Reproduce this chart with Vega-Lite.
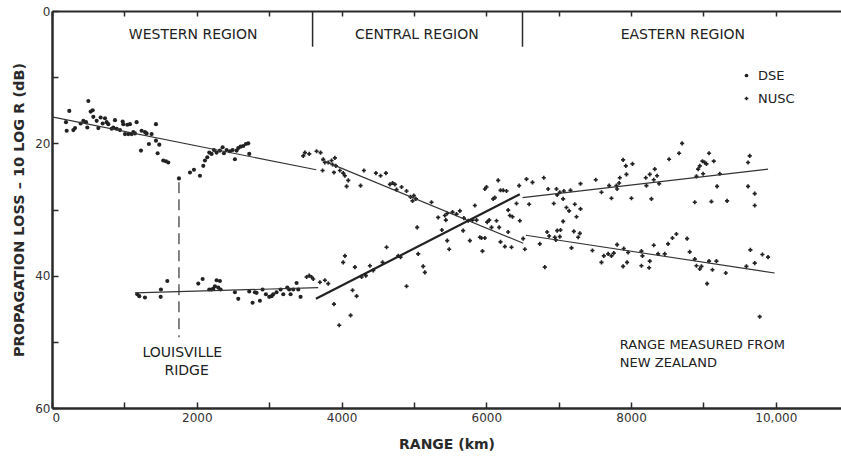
{
  "$schema": "https://vega.github.io/schema/vega-lite/v6.json",
  "width": 789,
  "height": 397,
  "autosize": {"type": "none"},
  "padding": {"left": 52, "top": 11, "right": 0, "bottom": 55},
  "background": "white",
  "config": {
    "view": {"stroke": null},
    "font": "DejaVu Sans",
    "axis": {"domainColor": "#2a2a2a", "tickColor": "#2a2a2a", "labelColor": "#333", "titleColor": "#2a2a2a", "grid": false, "labelFont": "DejaVu Sans", "titleFont": "DejaVu Sans"}
  },
  "datasets": {
    "pts": [
      {"range":193,"loss":16.8,"series":"DSE"},{"range":203,"loss":18.1,"series":"DSE"},{"range":239,"loss":15.1,"series":"DSE"},{"range":295,"loss":18.0,"series":"DSE"},{"range":318,"loss":17.7,"series":"DSE"},{"range":396,"loss":17.0,"series":"DSE"},{"range":433,"loss":16.6,"series":"DSE"},{"range":470,"loss":16.8,"series":"DSE"},{"range":488,"loss":17.6,"series":"DSE"},{"range":502,"loss":13.6,"series":"DSE"},{"range":534,"loss":15.2,"series":"DSE"},{"range":562,"loss":15.0,"series":"DSE"},{"range":571,"loss":16.0,"series":"DSE"},{"range":617,"loss":16.6,"series":"DSE"},{"range":640,"loss":17.7,"series":"DSE"},{"range":672,"loss":16.1,"series":"DSE"},{"range":700,"loss":17.0,"series":"DSE"},{"range":732,"loss":16.2,"series":"DSE"},{"range":755,"loss":16.8,"series":"DSE"},{"range":778,"loss":17.1,"series":"DSE"},{"range":824,"loss":17.8,"series":"DSE"},{"range":847,"loss":17.6,"series":"DSE"},{"range":870,"loss":16.5,"series":"DSE"},{"range":893,"loss":17.8,"series":"DSE"},{"range":939,"loss":18.0,"series":"DSE"},{"range":976,"loss":16.7,"series":"DSE"},{"range":985,"loss":17.1,"series":"DSE"},{"range":1008,"loss":18.6,"series":"DSE"},{"range":1040,"loss":17.2,"series":"DSE"},{"range":1054,"loss":18.6,"series":"DSE"},{"range":1077,"loss":17.1,"series":"DSE"},{"range":1100,"loss":18.6,"series":"DSE"},{"range":1123,"loss":18.3,"series":"DSE"},{"range":1146,"loss":18.5,"series":"DSE"},{"range":1169,"loss":16.8,"series":"DSE"},{"range":1238,"loss":18.1,"series":"DSE"},{"range":1284,"loss":18.3,"series":"DSE"},{"range":1307,"loss":18.5,"series":"DSE"},{"range":1229,"loss":21.1,"series":"DSE"},{"range":1339,"loss":20.1,"series":"DSE"},{"range":1376,"loss":18.6,"series":"DSE"},{"range":1436,"loss":17.1,"series":"DSE"},{"range":1436,"loss":19.6,"series":"DSE"},{"range":1459,"loss":21.5,"series":"DSE"},{"range":1482,"loss":20.2,"series":"DSE"},{"range":1537,"loss":22.6,"series":"DSE"},{"range":1574,"loss":22.7,"series":"DSE"},{"range":1606,"loss":22.9,"series":"DSE"},{"range":1754,"loss":25.3,"series":"DSE"},{"range":1906,"loss":24.4,"series":"DSE"},{"range":1961,"loss":24.0,"series":"DSE"},{"range":2044,"loss":24.9,"series":"DSE"},{"range":2090,"loss":23.4,"series":"DSE"},{"range":2113,"loss":22.6,"series":"DSE"},{"range":2145,"loss":22.1,"series":"DSE"},{"range":2173,"loss":21.4,"series":"DSE"},{"range":2205,"loss":21.6,"series":"DSE"},{"range":2237,"loss":21.0,"series":"DSE"},{"range":2274,"loss":21.4,"series":"DSE"},{"range":2320,"loss":21.1,"series":"DSE"},{"range":2357,"loss":20.6,"series":"DSE"},{"range":2375,"loss":21.5,"series":"DSE"},{"range":2412,"loss":21.0,"series":"DSE"},{"range":2458,"loss":21.2,"series":"DSE"},{"range":2495,"loss":21.0,"series":"DSE"},{"range":2527,"loss":22.4,"series":"DSE"},{"range":2550,"loss":21.1,"series":"DSE"},{"range":2573,"loss":20.7,"series":"DSE"},{"range":2605,"loss":20.5,"series":"DSE"},{"range":2642,"loss":20.4,"series":"DSE"},{"range":2679,"loss":20.1,"series":"DSE"},{"range":2711,"loss":20.0,"series":"DSE"},{"range":2725,"loss":21.6,"series":"DSE"},
      {"range":1178,"loss":42.8,"series":"DSE"},{"range":1206,"loss":43.1,"series":"DSE"},{"range":1284,"loss":43.3,"series":"DSE"},{"range":1505,"loss":42.1,"series":"DSE"},{"range":1501,"loss":43.2,"series":"DSE"},{"range":1593,"loss":40.8,"series":"DSE"},{"range":2021,"loss":41.2,"series":"DSE"},{"range":2081,"loss":40.5,"series":"DSE"},{"range":2173,"loss":42.1,"series":"DSE"},{"range":2205,"loss":42.1,"series":"DSE"},{"range":2228,"loss":42.0,"series":"DSE"},{"range":2251,"loss":41.6,"series":"DSE"},{"range":2274,"loss":40.7,"series":"DSE"},{"range":2297,"loss":41.8,"series":"DSE"},{"range":2320,"loss":40.8,"series":"DSE"},{"range":2329,"loss":42.1,"series":"DSE"},{"range":2527,"loss":42.5,"series":"DSE"},{"range":2573,"loss":43.5,"series":"DSE"},{"range":2725,"loss":42.4,"series":"DSE"},{"range":2771,"loss":44.1,"series":"DSE"},{"range":2803,"loss":42.5,"series":"DSE"},{"range":2826,"loss":42.6,"series":"DSE"},{"range":2872,"loss":43.8,"series":"DSE"},{"range":2909,"loss":42.1,"series":"DSE"},{"range":2955,"loss":42.8,"series":"DSE"},{"range":3001,"loss":43.2,"series":"DSE"},{"range":3033,"loss":43.1,"series":"DSE"},{"range":3056,"loss":42.8,"series":"DSE"},{"range":3102,"loss":42.5,"series":"DSE"},{"range":3158,"loss":42.1,"series":"DSE"},{"range":3195,"loss":42.8,"series":"DSE"},{"range":3250,"loss":41.8,"series":"DSE"},{"range":3277,"loss":42.1,"series":"DSE"},{"range":3296,"loss":42.8,"series":"DSE"},{"range":3333,"loss":42.1,"series":"DSE"},{"range":3379,"loss":41.1,"series":"DSE"},{"range":3402,"loss":42.1,"series":"DSE"},{"range":3434,"loss":43.2,"series":"DSE"},
      {"range":3471,"loss":21.9,"series":"NUSC"},{"range":3494,"loss":21.4,"series":"NUSC"},{"range":3554,"loss":21.6,"series":"NUSC"},{"range":3655,"loss":21.2,"series":"NUSC"},{"range":3710,"loss":21.4,"series":"NUSC"},{"range":3747,"loss":22.4,"series":"NUSC"},{"range":3738,"loss":24.1,"series":"NUSC"},{"range":3770,"loss":22.9,"series":"NUSC"},{"range":3816,"loss":22.9,"series":"NUSC"},
      {"range":3517,"loss":40.2,"series":"NUSC"},{"range":3554,"loss":40.0,"series":"NUSC"},{"range":3586,"loss":40.2,"series":"NUSC"},{"range":3609,"loss":40.5,"series":"NUSC"},{"range":3701,"loss":41.0,"series":"NUSC"},{"range":3770,"loss":40.7,"series":"NUSC"},{"range":3816,"loss":41.2,"series":"NUSC"},
      {"range":3862,"loss":22.6,"series":"NUSC"},{"range":3876,"loss":23.2,"series":"NUSC"},{"range":3895,"loss":24.4,"series":"NUSC"},{"range":3908,"loss":22.2,"series":"NUSC"},{"range":3922,"loss":23.4,"series":"NUSC"},{"range":3977,"loss":24.1,"series":"NUSC"},{"range":4023,"loss":24.5,"series":"NUSC"},{"range":4046,"loss":24.9,"series":"NUSC"},{"range":4070,"loss":26.5,"series":"NUSC"},{"range":4093,"loss":25.6,"series":"NUSC"},{"range":4263,"loss":26.4,"series":"NUSC"},{"range":4309,"loss":24.1,"series":"NUSC"},{"range":4475,"loss":24.5,"series":"NUSC"},{"range":4539,"loss":24.9,"series":"NUSC"},{"range":4613,"loss":24.5,"series":"NUSC"},{"range":4668,"loss":26.2,"series":"NUSC"},{"range":4705,"loss":26.0,"series":"NUSC"},{"range":4737,"loss":26.2,"series":"NUSC"},{"range":4760,"loss":27.0,"series":"NUSC"},{"range":4829,"loss":26.6,"series":"NUSC"},{"range":4898,"loss":27.2,"series":"NUSC"},{"range":4953,"loss":28.1,"series":"NUSC"},{"range":4981,"loss":28.7,"series":"NUSC"},{"range":4999,"loss":27.9,"series":"NUSC"},{"range":5027,"loss":28.4,"series":"NUSC"},{"range":5243,"loss":28.9,"series":"NUSC"},{"range":5335,"loss":31.2,"series":"NUSC"},{"range":5427,"loss":30.9,"series":"NUSC"},{"range":5441,"loss":31.6,"series":"NUSC"},{"range":5460,"loss":30.6,"series":"NUSC"},{"range":5533,"loss":30.4,"series":"NUSC"},{"range":5588,"loss":30.7,"series":"NUSC"},{"range":5635,"loss":30.2,"series":"NUSC"},{"range":5690,"loss":31.3,"series":"NUSC"},{"range":5750,"loss":31.7,"series":"NUSC"},{"range":5809,"loss":31.6,"series":"NUSC"},{"range":5842,"loss":29.4,"series":"NUSC"},{"range":5865,"loss":31.6,"series":"NUSC"},{"range":5911,"loss":34.2,"series":"NUSC"},{"range":5980,"loss":34.3,"series":"NUSC"},{"range":6012,"loss":31.9,"series":"NUSC"},{"range":6040,"loss":31.6,"series":"NUSC"},{"range":6072,"loss":32.7,"series":"NUSC"},{"range":6095,"loss":28.4,"series":"NUSC"},{"range":6118,"loss":28.2,"series":"NUSC"},{"range":5980,"loss":26.9,"series":"NUSC"},{"range":6003,"loss":26.6,"series":"NUSC"},{"range":6164,"loss":25.6,"series":"NUSC"},{"range":6196,"loss":27.1,"series":"NUSC"},{"range":6233,"loss":27.1,"series":"NUSC"},{"range":6279,"loss":27.2,"series":"NUSC"},{"range":6141,"loss":31.7,"series":"NUSC"},{"range":6178,"loss":32.7,"series":"NUSC"},{"range":6196,"loss":34.9,"series":"NUSC"},{"range":6256,"loss":35.6,"series":"NUSC"},{"range":6302,"loss":30.1,"series":"NUSC"},{"range":6302,"loss":33.4,"series":"NUSC"},{"range":6325,"loss":30.9,"series":"NUSC"},{"range":6348,"loss":35.7,"series":"NUSC"},{"range":6362,"loss":31.1,"series":"NUSC"},{"range":6417,"loss":29.1,"series":"NUSC"},{"range":6454,"loss":26.4,"series":"NUSC"},
      {"range":3895,"loss":44.3,"series":"NUSC"},{"range":3968,"loss":47.5,"series":"NUSC"},{"range":4023,"loss":38.0,"series":"NUSC"},{"range":4047,"loss":37.0,"series":"NUSC"},{"range":4125,"loss":46.0,"series":"NUSC"},{"range":4152,"loss":42.2,"series":"NUSC"},{"range":4185,"loss":38.7,"series":"NUSC"},{"range":4208,"loss":43.1,"series":"NUSC"},{"range":4277,"loss":40.2,"series":"NUSC"},{"range":4336,"loss":40.0,"series":"NUSC"},{"range":4392,"loss":38.5,"series":"NUSC"},{"range":4438,"loss":39.2,"series":"NUSC"},{"range":4567,"loss":38.0,"series":"NUSC"},{"range":4622,"loss":35.7,"series":"NUSC"},{"range":4783,"loss":37.0,"series":"NUSC"},{"range":4815,"loss":37.2,"series":"NUSC"},{"range":4898,"loss":41.6,"series":"NUSC"},{"range":5059,"loss":36.7,"series":"NUSC"},{"range":5128,"loss":38.6,"series":"NUSC"},{"range":5151,"loss":39.5,"series":"NUSC"},{"range":5045,"loss":32.7,"series":"NUSC"},{"range":5386,"loss":33.1,"series":"NUSC"},{"range":5460,"loss":34.7,"series":"NUSC"},{"range":5487,"loss":36.0,"series":"NUSC"},{"range":5680,"loss":33.2,"series":"NUSC"},{"range":5773,"loss":34.7,"series":"NUSC"},{"range":5947,"loss":36.3,"series":"NUSC"},{"range":5934,"loss":34.3,"series":"NUSC"},
      {"range":6463,"loss":31.7,"series":"NUSC"},{"range":6555,"loss":25.4,"series":"NUSC"},{"range":6638,"loss":25.9,"series":"NUSC"},{"range":6794,"loss":25.2,"series":"NUSC"},{"range":6854,"loss":26.9,"series":"NUSC"},{"range":6592,"loss":29.2,"series":"NUSC"},{"range":6932,"loss":29.1,"series":"NUSC"},{"range":6969,"loss":26.9,"series":"NUSC"},{"range":6979,"loss":27.8,"series":"NUSC"},{"range":7015,"loss":27.4,"series":"NUSC"},{"range":7071,"loss":27.2,"series":"NUSC"},{"range":7061,"loss":28.4,"series":"NUSC"},{"range":7163,"loss":27.1,"series":"NUSC"},{"range":7107,"loss":29.7,"series":"NUSC"},{"range":7144,"loss":30.2,"series":"NUSC"},{"range":7222,"loss":29.2,"series":"NUSC"},{"range":7246,"loss":31.1,"series":"NUSC"},{"range":7301,"loss":29.9,"series":"NUSC"},{"range":7301,"loss":26.1,"series":"NUSC"},{"range":7061,"loss":31.8,"series":"NUSC"},{"range":7512,"loss":25.5,"series":"NUSC"},{"range":7591,"loss":27.4,"series":"NUSC"},{"range":7697,"loss":26.4,"series":"NUSC"},{"range":7729,"loss":28.3,"series":"NUSC"},{"range":7807,"loss":26.9,"series":"NUSC"},{"range":7798,"loss":26.4,"series":"NUSC"},{"range":7835,"loss":26.0,"series":"NUSC"},{"range":7844,"loss":25.2,"series":"NUSC"},{"range":7890,"loss":22.5,"series":"NUSC"},{"range":7927,"loss":23.4,"series":"NUSC"},{"range":7936,"loss":24.7,"series":"NUSC"},{"range":8019,"loss":23.1,"series":"NUSC"},{"range":8005,"loss":28.3,"series":"NUSC"},{"range":8203,"loss":25.2,"series":"NUSC"},{"range":8212,"loss":26.4,"series":"NUSC"},{"range":8258,"loss":24.7,"series":"NUSC"},{"range":8281,"loss":28.4,"series":"NUSC"},{"range":8313,"loss":25.5,"series":"NUSC"},{"range":8327,"loss":23.9,"series":"NUSC"},{"range":8359,"loss":24.9,"series":"NUSC"},{"range":8387,"loss":26.1,"series":"NUSC"},{"range":8525,"loss":22.4,"series":"NUSC"},{"range":8663,"loss":21.5,"series":"NUSC"},{"range":8705,"loss":20.0,"series":"NUSC"},{"range":8880,"loss":28.9,"series":"NUSC"},{"range":8903,"loss":25.0,"series":"NUSC"},{"range":8926,"loss":23.9,"series":"NUSC"},{"range":8949,"loss":23.4,"series":"NUSC"},{"range":8986,"loss":22.7,"series":"NUSC"},{"range":9018,"loss":22.9,"series":"NUSC"},{"range":9041,"loss":23.1,"series":"NUSC"},{"range":8995,"loss":24.6,"series":"NUSC"},{"range":9077,"loss":21.5,"series":"NUSC"},{"range":9110,"loss":28.8,"series":"NUSC"},{"range":9142,"loss":22.7,"series":"NUSC"},{"range":9188,"loss":26.5,"series":"NUSC"},{"range":9225,"loss":24.6,"series":"NUSC"},{"range":9326,"loss":28.7,"series":"NUSC"},{"range":9616,"loss":26.5,"series":"NUSC"},{"range":9639,"loss":21.9,"series":"NUSC"},{"range":9616,"loss":22.9,"series":"NUSC"},{"range":9708,"loss":27.6,"series":"NUSC"},{"range":9708,"loss":29.4,"series":"NUSC"},
      {"range":6509,"loss":34.4,"series":"NUSC"},{"range":6532,"loss":36.0,"series":"NUSC"},{"range":6739,"loss":35.2,"series":"NUSC"},{"range":6808,"loss":38.7,"series":"NUSC"},{"range":6840,"loss":33.4,"series":"NUSC"},{"range":6868,"loss":34.0,"series":"NUSC"},{"range":6946,"loss":34.2,"series":"NUSC"},{"range":6979,"loss":33.2,"series":"NUSC"},{"range":7015,"loss":34.1,"series":"NUSC"},{"range":6960,"loss":34.6,"series":"NUSC"},{"range":7025,"loss":33.1,"series":"NUSC"},{"range":7177,"loss":35.8,"series":"NUSC"},{"range":7209,"loss":33.3,"series":"NUSC"},{"range":7269,"loss":34.2,"series":"NUSC"},{"range":7292,"loss":33.6,"series":"NUSC"},{"range":7466,"loss":36.2,"series":"NUSC"},{"range":7591,"loss":38.0,"series":"NUSC"},{"range":7623,"loss":37.0,"series":"NUSC"},{"range":7683,"loss":36.7,"series":"NUSC"},{"range":7729,"loss":37.0,"series":"NUSC"},{"range":7761,"loss":36.6,"series":"NUSC"},{"range":7807,"loss":35.3,"series":"NUSC"},{"range":7890,"loss":38.6,"series":"NUSC"},{"range":7945,"loss":38.0,"series":"NUSC"},{"range":7899,"loss":35.9,"series":"NUSC"},{"range":7959,"loss":36.5,"series":"NUSC"},{"range":8143,"loss":36.3,"series":"NUSC"},{"range":8157,"loss":37.0,"series":"NUSC"},{"range":8143,"loss":38.5,"series":"NUSC"},{"range":8249,"loss":38.8,"series":"NUSC"},{"range":8258,"loss":37.8,"series":"NUSC"},{"range":8313,"loss":35.4,"series":"NUSC"},{"range":8373,"loss":36.7,"series":"NUSC"},{"range":8465,"loss":36.7,"series":"NUSC"},{"range":8511,"loss":35.2,"series":"NUSC"},{"range":8571,"loss":34.3,"series":"NUSC"},{"range":8626,"loss":33.7,"series":"NUSC"},{"range":8774,"loss":34.4,"series":"NUSC"},{"range":8810,"loss":36.4,"series":"NUSC"},{"range":8880,"loss":37.5,"series":"NUSC"},{"range":8903,"loss":38.5,"series":"NUSC"},{"range":8949,"loss":39.0,"series":"NUSC"},{"range":8972,"loss":38.6,"series":"NUSC"},{"range":9050,"loss":41.2,"series":"NUSC"},{"range":9077,"loss":37.8,"series":"NUSC"},{"range":9124,"loss":39.1,"series":"NUSC"},{"range":9179,"loss":37.8,"series":"NUSC"},{"range":9308,"loss":39.6,"series":"NUSC"},{"range":9593,"loss":38.6,"series":"NUSC"},{"range":9648,"loss":36.1,"series":"NUSC"},{"range":9708,"loss":38.1,"series":"NUSC"},{"range":9777,"loss":46.2,"series":"NUSC"},{"range":9814,"loss":36.8,"series":"NUSC"},{"range":9892,"loss":37.2,"series":"NUSC"}
    ],
    "fits": [
      {"seg":"W_upper","range":0,"loss":16.0},{"seg":"W_upper","range":3650,"loss":24.0},
      {"seg":"C_desc","range":3720,"loss":22.5},{"seg":"C_desc","range":6510,"loss":35.1},
      {"seg":"E_desc","range":6546,"loss":33.9},{"seg":"E_desc","range":9984,"loss":39.6},
      {"seg":"W_lower","range":1146,"loss":42.6},{"seg":"W_lower","range":3678,"loss":41.8},
      {"seg":"E_asc","range":6500,"loss":28.2},{"seg":"E_asc","range":9892,"loss":23.9},
      {"seg":"C_asc","range":3646,"loss":43.5},{"seg":"C_asc","range":6463,"loss":27.7}
    ],
    "ridge": [{"range":1754,"loss":25.9},{"range":1754,"loss":49.3}],
    "regions": [{"range":3600,"top":0,"bottom":5.4},{"range":6500,"top":0,"bottom":5.4}],
    "centerText": [
      {"label":"WESTERN REGION","range":1950,"loss":3.6},
      {"label":"CENTRAL REGION","range":5040,"loss":3.6},
      {"label":"EASTERN REGION","range":8715,"loss":3.6},
      {"label":"LOUISVILLE","range":1800,"loss":51.7},
      {"label":"RIDGE","range":1860,"loss":54.4}
    ],
    "leftText": [
      {"label":"RANGE MEASURED FROM","range":7845,"loss":50.5},
      {"label":"NEW ZEALAND","range":7845,"loss":53.2}
    ]
  },
  "resolve": {"axis": {"x": "independent"}},
  "layer": [
    {
      "data": {"name": "pts"},
      "mark": {"type": "point", "filled": true, "opacity": 1},
      "encoding": {
        "x": {"field": "range", "type": "quantitative",
          "scale": {"domain": [0, 10900], "nice": false, "zero": false},
          "axis": {"orient": "bottom", "values": [0,1000,2000,3000,4000,5000,6000,7000,8000,9000,10000],
            "labelExpr": "datum.value == 10000 ? '10,000' : (datum.value % 2000 == 0 ? datum.value + '' : '')",
            "tickSize": -6, "tickWidth": 1.5, "domainWidth": 2.5, "labelPadding": 10, "labelFontSize": 12,
            "title": "RANGE (km)", "titleFontSize": 14, "titleFontWeight": "bold", "titlePadding": 14}},
        "y": {"field": "loss", "type": "quantitative",
          "scale": {"domain": [0, 60], "reverse": true, "nice": false, "zero": false},
          "axis": {"values": [0,10,20,30,40,50,60],
            "labelExpr": "datum.value % 20 == 0 ? datum.label : ''",
            "tickSize": -6, "tickWidth": 1.5, "domainWidth": 2.5, "labelPadding": 8, "labelFontSize": 12,
            "title": "PROPAGATION LOSS – 10 LOG R (dB)", "titleFontSize": 14.5, "titleFontWeight": "bold", "titlePadding": 8}},
        "color": {"field": "series", "type": "nominal",
          "scale": {"domain": ["DSE","NUSC"], "range": ["#222222","#222222"]},
          "legend": {"title": null, "orient": "none", "legendX": 688, "legendY": 58, "symbolType": "circle", "symbolSize": 14, "labelFontSize": 13, "labelColor": "#222", "rowPadding": 9, "labelOffset": 5}},
        "shape": {"field": "series", "type": "nominal",
          "scale": {"domain": ["DSE","NUSC"], "range": ["circle","cross"]}, "legend": null},
        "size": {"value": 17}
      }
    },
    {
      "data": {"name": "fits"},
      "transform": [{"filter": "datum.seg != 'C_asc'"}],
      "mark": {"type": "line", "color": "#333", "strokeWidth": 1.1},
      "encoding": {
        "x": {"field": "range", "type": "quantitative", "axis": null},
        "y": {"field": "loss", "type": "quantitative"},
        "detail": {"field": "seg"}
      }
    },
    {
      "data": {"name": "fits"},
      "transform": [{"filter": "datum.seg == 'C_asc'"}],
      "mark": {"type": "line", "color": "#222", "strokeWidth": 2.2},
      "encoding": {
        "x": {"field": "range", "type": "quantitative", "axis": null},
        "y": {"field": "loss", "type": "quantitative"}
      }
    },
    {
      "data": {"name": "ridge"},
      "mark": {"type": "line", "color": "#333", "strokeWidth": 1.2, "strokeDash": [11, 6]},
      "encoding": {
        "x": {"field": "range", "type": "quantitative", "axis": null},
        "y": {"field": "loss", "type": "quantitative"}
      }
    },
    {
      "data": {"name": "regions"},
      "mark": {"type": "rule", "color": "#2a2a2a", "strokeWidth": 1.5},
      "encoding": {
        "x": {"field": "range", "type": "quantitative",
          "axis": {"orient": "top", "values": [0,1000,2000,3000,4000,5000,6000,7000,8000,9000,10000],
            "labels": false, "tickSize": -5, "tickWidth": 1.5, "domainWidth": 2, "title": null}},
        "y": {"field": "top", "type": "quantitative"},
        "y2": {"field": "bottom"}
      }
    },
    {
      "data": {"name": "centerText"},
      "mark": {"type": "text", "align": "center", "baseline": "middle", "fontSize": 14, "color": "#222"},
      "encoding": {
        "x": {"field": "range", "type": "quantitative", "axis": null},
        "y": {"field": "loss", "type": "quantitative"},
        "text": {"field": "label"}
      }
    },
    {
      "data": {"name": "leftText"},
      "mark": {"type": "text", "align": "left", "baseline": "middle", "fontSize": 13, "color": "#222"},
      "encoding": {
        "x": {"field": "range", "type": "quantitative", "axis": null},
        "y": {"field": "loss", "type": "quantitative"},
        "text": {"field": "label"}
      }
    }
  ]
}
